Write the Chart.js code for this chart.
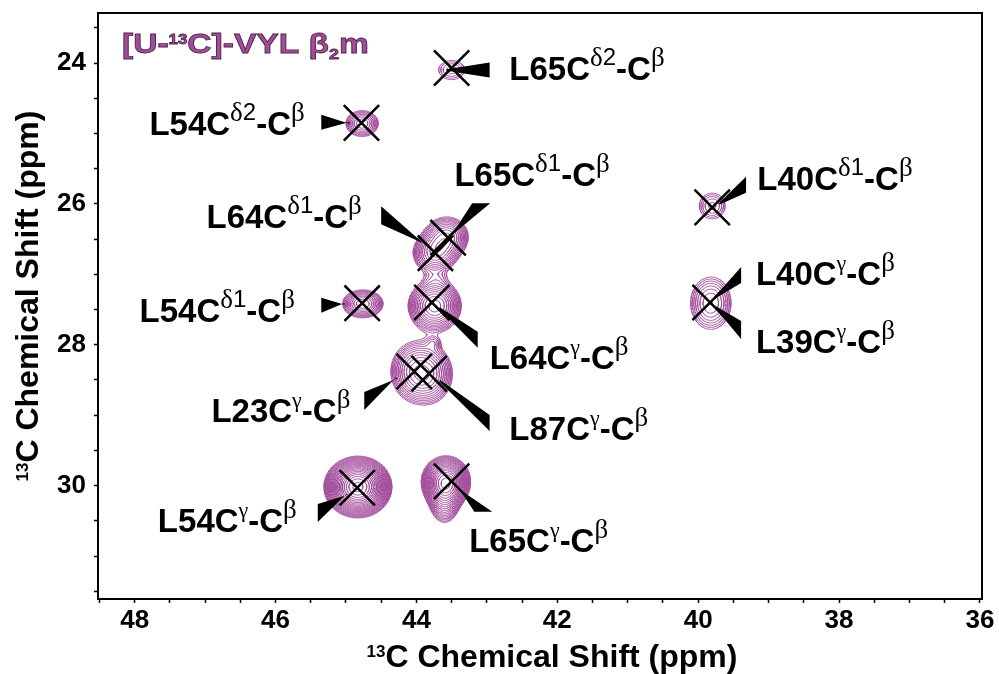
<!DOCTYPE html>
<html>
<head>
<meta charset="utf-8">
<script src="https://cdn.jsdelivr.net/npm/chart.js@4.4.0/dist/chart.umd.min.js"></script>
<style>
  html, body { margin: 0; padding: 0; background: #fff; }
</style>
</head>
<body>
<canvas id="nmr" width="999" height="674"></canvas>
<script>
// cross-peak positions (13C ppm)
const peakNames = ['L65Cd2', 'L54Cd2', 'L65Cd1', 'L64Cd1', 'L54Cd1', 'L64Cg', 'L23Cg', 'L87Cg', 'L54Cg', 'L65Cg', 'L40Cd1', 'L40Cg/L39Cg'];
const peakC1 = [43.50, 44.78, 43.55, 43.73, 44.77, 43.78, 44.03, 43.82, 44.84, 43.50, 39.80, 39.83];
const peakC2 = [24.07, 24.85, 26.48, 26.70, 27.41, 27.40, 28.38, 28.41, 30.03, 29.94, 26.05, 27.40];

// line-shape model used for the contour plot (centre, widths in ppm, height in units of the lowest level)
const blobC1 = [43.50, 44.77, 44.76, 43.57, 43.74, 43.72, 43.74, 44.03, 43.82, 43.76, 44.83, 43.58, 43.60, 39.80, 39.82];
const blobC2 = [24.10, 24.86, 27.42, 26.47, 26.70, 27.06, 27.45, 28.38, 28.42, 27.97, 30.02, 29.95, 30.18, 26.03, 27.41];
const blobW1 = [0.16, 0.133, 0.149, 0.16, 0.16, 0.12, 0.175, 0.18, 0.18, 0.07, 0.172, 0.14, 0.11, 0.145, 0.178];
const blobW2 = [0.12, 0.108, 0.104, 0.15, 0.15, 0.08, 0.175, 0.22, 0.22, 0.06, 0.157, 0.15, 0.18, 0.145, 0.232];
const blobH = [1.9, 4.3, 6.2, 6, 6, 0.8, 10, 5, 5, 1.2, 50, 22, 6, 2.2, 3.6];
const baseLevel = 1;
const levelRatio = 1.2;

const xTickLabels = [48, 46, 44, 42, 40, 38, 36];
const yTickLabels = [24, 26, 28, 30];

// assignments: label anchor, arrow base and arrow tip, all in ppm
const notes = [
  { text: 'L65C^δ2^-C^β', at: [42.68, 24.24], base: [42.96, 24.10], tip: [43.57, 24.10], half: 7.5, dir: 'v' },
  { text: 'L54C^δ2^-C^β', at: [47.79, 25.02], base: [45.35, 24.84], tip: [44.95, 24.85], half: 7.5, dir: 'v' },
  { text: 'L64C^δ1^-C^β', at: [46.98, 26.34], base: [44.50, 26.16], tip: [43.84, 26.60], half: 9, dir: 'v' },
  { text: 'L65C^δ1^-C^β', at: [43.46, 25.75], base: [43.08, 25.99], tip: [43.46, 26.40], half: 9, dir: 'h' },
  { text: 'L54C^δ1^-C^β', at: [47.93, 27.68], base: [45.35, 27.44], tip: [45.02, 27.42], half: 7.5, dir: 'v' },
  { text: 'L64C^γ^-C^β', at: [42.96, 28.34], base: [43.13, 27.93], tip: [43.67, 27.48], half: 8, dir: 'v' },
  { text: 'L23C^γ^-C^β', at: [46.91, 29.10], base: [44.74, 28.80], tip: [44.28, 28.47], half: 9, dir: 'v' },
  { text: 'L87C^γ^-C^β', at: [42.68, 29.35], base: [42.96, 29.11], tip: [43.67, 28.51], half: 8, dir: 'v' },
  { text: 'L54C^γ^-C^β', at: [47.67, 30.66], base: [45.40, 30.39], tip: [44.98, 30.12], half: 9, dir: 'v' },
  { text: 'L65C^γ^-C^β', at: [43.25, 30.94], base: [43.05, 30.37], tip: [43.42, 30.02], half: 9, dir: 'h' },
  { text: 'L40C^δ1^-C^β', at: [39.16, 25.80], base: [39.32, 25.73], tip: [39.70, 26.00], half: 8, dir: 'v' },
  { text: 'L40C^γ^-C^β', at: [39.18, 27.15], base: [39.39, 27.01], tip: [39.77, 27.34], half: 8, dir: 'v' },
  { text: 'L39C^γ^-C^β', at: [39.18, 28.12], base: [39.39, 27.79], tip: [39.76, 27.46], half: 9, dir: 'v' }
];
const titleAt = [48.18, 23.86];

const SANS = '"Liberation Sans", Arial, sans-serif';
const SERIF = '"Liberation Serif", "Times New Roman", serif';
const PURPLE = '#a4509d';

function intensity(x, y) {
  let s = 0;
  for (let k = 0; k < blobC1.length; k++) {
    const u = (x - blobC1[k]) / blobW1[k];
    const v = (y - blobC2[k]) / blobW2[k];
    s += blobH[k] * Math.exp(-0.5 * (u * u + v * v));
  }
  return s;
}

// marching squares, edges: 0 top, 1 right, 2 bottom, 3 left
const CASES = {
  1: [[3, 0]], 2: [[0, 1]], 3: [[3, 1]], 4: [[1, 2]], 5: [[3, 0], [1, 2]], 6: [[0, 2]], 7: [[3, 2]],
  8: [[2, 3]], 9: [[0, 2]], 10: [[0, 1], [2, 3]], 11: [[1, 2]], 12: [[1, 3]], 13: [[0, 1]], 14: [[0, 3]]
};

function buildContours() {
  const x0 = 38.9, x1 = 45.8, y0 = 23.55, y1 = 31.0, h = 0.01;
  const nx = Math.round((x1 - x0) / h) + 1;
  const ny = Math.round((y1 - y0) / h) + 1;
  const f = new Float32Array(nx * ny);
  let top = 0;
  for (let j = 0; j < ny; j++) {
    for (let i = 0; i < nx; i++) {
      const v = intensity(x0 + i * h, y0 + j * h);
      f[j * nx + i] = v;
      if (v > top) top = v;
    }
  }
  const levels = [];
  for (let L = baseLevel; L < top; L *= levelRatio) levels.push(L);

  const pts = [];
  for (let j = 0; j < ny - 1; j++) {
    for (let i = 0; i < nx - 1; i++) {
      const a = f[j * nx + i], b = f[j * nx + i + 1];
      const c = f[(j + 1) * nx + i + 1], d = f[(j + 1) * nx + i];
      const lo = Math.min(a, b, c, d), hi = Math.max(a, b, c, d);
      if (hi < baseLevel) continue;
      const xa = x0 + i * h, ya = y0 + j * h;
      for (const L of levels) {
        if (L <= lo) continue;
        if (L > hi) break;
        const idx = (a > L ? 1 : 0) | (b > L ? 2 : 0) | (c > L ? 4 : 0) | (d > L ? 8 : 0);
        const segs = CASES[idx];
        if (!segs) continue;
        const edge = e => {
          if (e === 0) return { x: xa + h * (L - a) / (b - a), y: ya };
          if (e === 1) return { x: xa + h, y: ya + h * (L - b) / (c - b) };
          if (e === 2) return { x: xa + h * (L - d) / (c - d), y: ya + h };
          return { x: xa, y: ya + h * (L - a) / (d - a) };
        };
        segs.forEach(s => {
          pts.push(edge(s[0]), edge(s[1]), { x: null, y: null });
        });
      }
    }
  }
  return pts;
}

function drawRich(ctx, s, x, y) {
  s.split('^').forEach((p, i) => {
    if (!p) return;
    if (i % 2 === 0) {
      ctx.font = 'bold 33px ' + SANS;
      ctx.fillText(p, x, y);
      x += ctx.measureText(p).width;
    } else {
      for (const ch of p) {
        let font, dy;
        if (/[0-9]/.test(ch)) { font = '24px ' + SANS; dy = -15; }
        else if (ch === 'γ') { font = '22px ' + SERIF; dy = -15; }
        else { font = '27px ' + SERIF; dy = -14; }
        ctx.font = font;
        ctx.fillText(ch, x, y + dy);
        x += ctx.measureText(ch).width;
      }
    }
  });
}

function drawWedge(ctx, bx, by, tx, ty, half, dir) {
  let b1, b2;
  if (dir === 'h') { b1 = [bx - half, by]; b2 = [bx + half, by]; }
  else { b1 = [bx, by - half]; b2 = [bx, by + half]; }
  const len = Math.hypot(tx - bx, ty - by);
  const nxv = -(ty - by) / len * 0.8, nyv = (tx - bx) / len * 0.8;
  ctx.beginPath();
  ctx.moveTo(b1[0], b1[1]);
  ctx.lineTo(tx + nxv, ty + nyv);
  ctx.lineTo(tx - nxv, ty - nyv);
  ctx.lineTo(b2[0], b2[1]);
  ctx.closePath();
  ctx.fill();
}

const annotatePlugin = {
  id: 'annotate',
  afterDatasetsDraw(chart) {
    const { ctx, chartArea: a } = chart;
    const sx = chart.scales.x, sy = chart.scales.y;
    ctx.save();
    ctx.strokeStyle = '#000';
    ctx.lineWidth = 2;
    ctx.strokeRect(a.left, a.top, a.right - a.left, a.bottom - a.top);

    ctx.fillStyle = '#000';
    ctx.textBaseline = 'alphabetic';
    ctx.textAlign = 'left';
    notes.forEach(n => {
      drawWedge(ctx,
        sx.getPixelForValue(n.base[0]), sy.getPixelForValue(n.base[1]),
        sx.getPixelForValue(n.tip[0]), sy.getPixelForValue(n.tip[1]),
        n.half, n.dir);
      drawRich(ctx, n.text, sx.getPixelForValue(n.at[0]), sy.getPixelForValue(n.at[1]));
    });

    // sample title
    ctx.save();
    ctx.translate(sx.getPixelForValue(titleAt[0]), sy.getPixelForValue(titleAt[1]));
    ctx.scale(1.2, 1);
    ctx.fillStyle = '#a24c9b';
    ctx.strokeStyle = '#4d2449';
    ctx.lineWidth = 0.8;
    const parts = [['[U-', 28, 0], ['13', 14, -9], ['C]-VYL β', 28, 0], ['2', 15, 6], ['m', 28, 0]];
    let px = 0;
    parts.forEach(p => {
      ctx.font = 'bold ' + p[1] + 'px ' + SANS;
      ctx.fillText(p[0], px, p[2]);
      ctx.strokeText(p[0], px, p[2]);
      px += ctx.measureText(p[0]).width;
    });
    ctx.restore();

    // axis titles
    ctx.fillStyle = '#000';
    const axisTitle = (cx, cy, rot) => {
      ctx.save();
      ctx.translate(cx, cy);
      ctx.rotate(rot);
      ctx.font = 'bold 17px ' + SANS;
      const w1 = ctx.measureText('13').width;
      ctx.font = 'bold 32px ' + SANS;
      const main = 'C Chemical Shift (ppm)';
      const w2 = ctx.measureText(main).width;
      const x0 = -(w1 + w2) / 2;
      ctx.fillText(main, x0 + w1, 0);
      ctx.font = 'bold 17px ' + SANS;
      ctx.fillText('13', x0, -10);
      ctx.restore();
    };
    axisTitle((a.left + a.right) / 2 + 12, chart.height - 7, 0);
    axisTitle(38, (a.top + a.bottom) / 2 - 10, -Math.PI / 2);
    ctx.restore();
  }
};

const near = (list, v) => list.some(t => Math.abs(t - v) < 1e-6);

new Chart(document.getElementById('nmr'), {
  type: 'scatter',
  data: {
    datasets: [
      {
        label: 'contours',
        data: buildContours(),
        showLine: true,
        borderColor: PURPLE,
        borderWidth: 1,
        pointRadius: 0,
        pointHoverRadius: 0,
        spanGaps: false,
        order: 2
      },
      {
        label: 'peaks',
        data: peakC1.map((v, i) => ({ x: v, y: peakC2[i] })),
        pointStyle: 'crossRot',
        pointRadius: 25,
        pointBorderWidth: 2.5,
        pointBorderColor: '#000',
        pointBackgroundColor: '#000',
        order: 1
      }
    ]
  },
  options: {
    responsive: false,
    animation: false,
    events: [],
    layout: { autoPadding: false, padding: { top: 13, right: 17, left: 0, bottom: 0 } },
    plugins: { legend: { display: false }, tooltip: { enabled: false } },
    scales: {
      x: {
        type: 'linear',
        reverse: true,
        min: 35.97,
        max: 48.52,
        afterFit: s => { s.height = 75; s.paddingLeft = 0; s.paddingRight = 0; },
        border: { display: true, color: '#000', width: 2 },
        grid: { display: true, drawOnChartArea: false, drawTicks: true, tickLength: 4, tickColor: '#000', tickWidth: 1.5 },
        ticks: {
          stepSize: 0.5,
          includeBounds: false,
          autoSkip: false,
          maxRotation: 0,
          padding: 2,
          color: '#000',
          font: { family: SANS, size: 26, weight: 'bold' },
          callback: v => near(xTickLabels, v) ? String(Math.round(v)) : ''
        }
      },
      y: {
        type: 'linear',
        reverse: true,
        min: 23.29,
        max: 31.61,
        afterFit: s => { s.width = 98; s.paddingTop = 0; s.paddingBottom = 0; },
        border: { display: true, color: '#000', width: 2 },
        grid: { display: true, drawOnChartArea: false, drawTicks: true, tickLength: 4, tickColor: '#000', tickWidth: 1.5 },
        ticks: {
          stepSize: 0.5,
          includeBounds: false,
          autoSkip: false,
          padding: 8,
          color: '#000',
          font: { family: SANS, size: 26, weight: 'bold' },
          callback: v => near(yTickLabels, v) ? String(Math.round(v)) : ''
        }
      }
    }
  },
  plugins: [annotatePlugin]
});
</script>
</body>
</html>
